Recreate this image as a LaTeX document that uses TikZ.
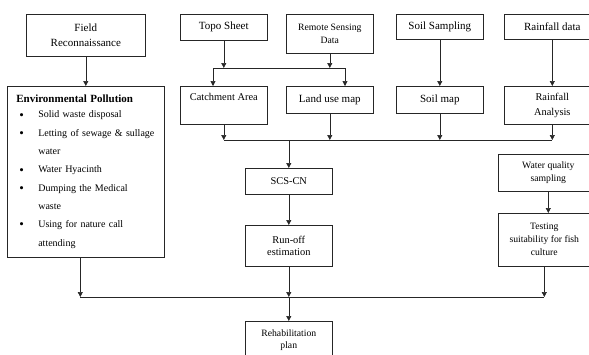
\documentclass[tikz,border=0pt]{standalone}
\usepackage{fontspec}
\setmainfont{Liberation Serif}
\usetikzlibrary{positioning,arrows.meta}
\tikzset{
		>={Triangle[length=5pt,width=5pt]},
		box/.style={
			rectangle,
			draw=black!85, line width=0.6pt,
			anchor=north west,
			align=center,
			inner sep=2pt,
			font=\fontsize{11}{15}\selectfont},
		smallbox/.style={box, font=\fontsize{9.7}{13}\selectfont},
		line/.style={draw=black!85, line width=0.6pt},
		arrow/.style={line, ->},
	}
\newcommand{\bul}{\hspace*{3pt}\makebox[19pt][l]{\raisebox{-1.2pt}{\fontsize{13}{10}\selectfont\textbullet}}}

\begin{document}
\begin{tikzpicture}[x=1pt,y=-1pt,
			listbox/.style={box, align=left, inner xsep=9pt, inner ysep=0pt,
				text width=139pt, minimum width=157pt, minimum height=171pt,
				font=\fontsize{10}{18.3}\selectfont},
			]
			\useasboundingbox (0,0) rectangle (589,354);
			
			% first row
			\node[box, minimum width=119pt, minimum height=42pt] (FR) at (26,14) {Field\\Reconnaissance};
			\node[box, minimum width=87pt, minimum height=26pt] (TS) at (180,14) {Topo Sheet};
			\node[smallbox, minimum width=87pt, minimum height=39pt] (RS) at (286,14) {Remote Sensing\\Data};
			\node[box, minimum width=87pt, minimum height=25pt] (SS) at (396,14) {Soil Sampling};
			\node[box, minimum width=96pt, minimum height=25pt] (RD) at (504,14) {Rainfall data};
			
			% second row
			\node[listbox] (EP) at (7,86) {%
				\textbf{\fontsize{11}{13}\selectfont Environmental Pollution}\\[-3.3pt]
				\bul Solid waste disposal\\
				\bul Letting of sewage \& sullage\\
				\hspace*{22pt}water\\
				\bul Water Hyacinth\\
				\bul Dumping the Medical\\
				\hspace*{22pt}waste\\
				\bul Using for nature call\\
				\hspace*{22pt}attending};
			\node[box, minimum width=87pt, text height=12pt, text depth=22pt,
				font=\fontsize{10.4}{14}\selectfont] (CA) at (180,86) {Catchment Area};
			\node[box, minimum width=87pt, minimum height=27pt] (LU) at (286,86) {Land use map};
			\node[box, minimum width=87pt, minimum height=27pt] (SM) at (396,86) {Soil map};
			\node[box, minimum width=96pt, minimum height=38pt,
				font=\fontsize{10.4}{15}\selectfont] (RA) at (504,86) {Rainfall\\Analysis};
			
			% lower part
			\node[box, minimum width=87pt, minimum height=26pt,
				font=\fontsize{10.4}{15}\selectfont] (SC) at (245,168) {SCS-CN};
			\node[box, minimum width=87pt, minimum height=41pt,
				font=\fontsize{10.4}{12}\selectfont] (RO) at (245,225) {Run-off\\estimation};
			\node[smallbox, minimum width=100pt, minimum height=37pt] (WQ) at (498,154) {Water quality\\sampling};
			\node[smallbox, minimum width=92pt, minimum height=53pt] (TF) at (498,213) {Testing\\suitability for fish\\culture};
			\node[smallbox, minimum width=87pt, minimum height=37pt,
				font=\fontsize{9.7}{12}\selectfont] (RP) at (245,321) {Rehabilitation\\plan};
			
			\coordinate (J1) at (213,68);
			\coordinate (J2) at (345,68);
			\coordinate (B2) at (0,140);
			\coordinate (B3) at (0,297);
			
			\draw[arrow] (FR) -- (EP);
			\draw[arrow] (TS) -- (TS |- J1);
			\draw[arrow] (RS) -- (RS |- J1);
			\draw[line] (J1) -- (J2);
			\draw[arrow] (J1) -- (J1 |- CA.north);
			\draw[arrow] (J2) -- (J2 |- LU.north);
			\draw[arrow] (SS) -- (SM);
			\draw[arrow] (RD) -- (RA);
			
			\draw[arrow] (CA) -- (CA |- B2);
			\draw[arrow] (LU) -- (LU |- B2);
			\draw[arrow] (SM) -- (SM |- B2);
			\draw[arrow] (RA) -- (RA |- B2);
			\draw[line] (CA.south |- B2) -- (RA.south |- B2);
			\draw[arrow] (SC.north |- B2) -- (SC);
			\draw[arrow] (SC) -- (RO);
			\draw[arrow] (WQ) -- (WQ.south |- TF.north);
			
			\draw[arrow] ([xshift=-5.5pt]EP.south) -- ([xshift=-5.5pt]EP.south |- B3);
			\draw[arrow] (RO) -- (RO |- B3);
			\draw[arrow] (TF) -- (TF |- B3);
			\draw[line] ([xshift=-5.5pt]EP.south |- B3) -- (TF.south |- B3);
			\draw[arrow] (RO.south |- B3) -- (RP);
\end{tikzpicture}
\end{document}
